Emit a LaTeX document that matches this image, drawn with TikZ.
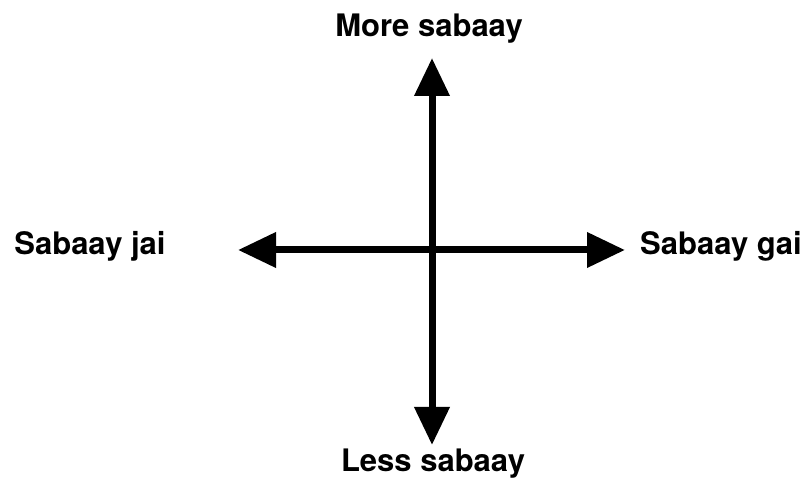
\documentclass[tikz,border=0pt]{standalone}
\usepackage{fontspec}
\setmainfont{TeX Gyre Heros}
\usetikzlibrary{arrows.meta,positioning}

\tikzset{
  axis/.style={line width=7pt, {Triangle[length=38pt,width=34pt]}-{Triangle[length=38pt,width=34pt]}},
  lbl/.style={inner sep=0pt, anchor=base, font=\fontsize{31}{36}\selectfont\bfseries}
}

\begin{document}
\begin{tikzpicture}[x=1pt,y=1pt]
    \useasboundingbox (0,0) rectangle (809,478);

    % ends of the two axes
    \coordinate (top) at (432,420);
    \coordinate (bottom) at (432,33);
    \coordinate (left) at (238,228);
    \coordinate (right) at (625,228);

    \draw[axis] (bottom) -- (top);
    \draw[axis] (left) -- (right);

    \node[lbl] (more) at (429,441) {More sabaay};
    \node[lbl] (less) at (433,6) {Less sabaay};
    \node[lbl] (jai) at (90,223) {Sabaay jai};
    \node[lbl] (gai) at (721,223) {Sabaay gai};
  \end{tikzpicture}
\end{document}
